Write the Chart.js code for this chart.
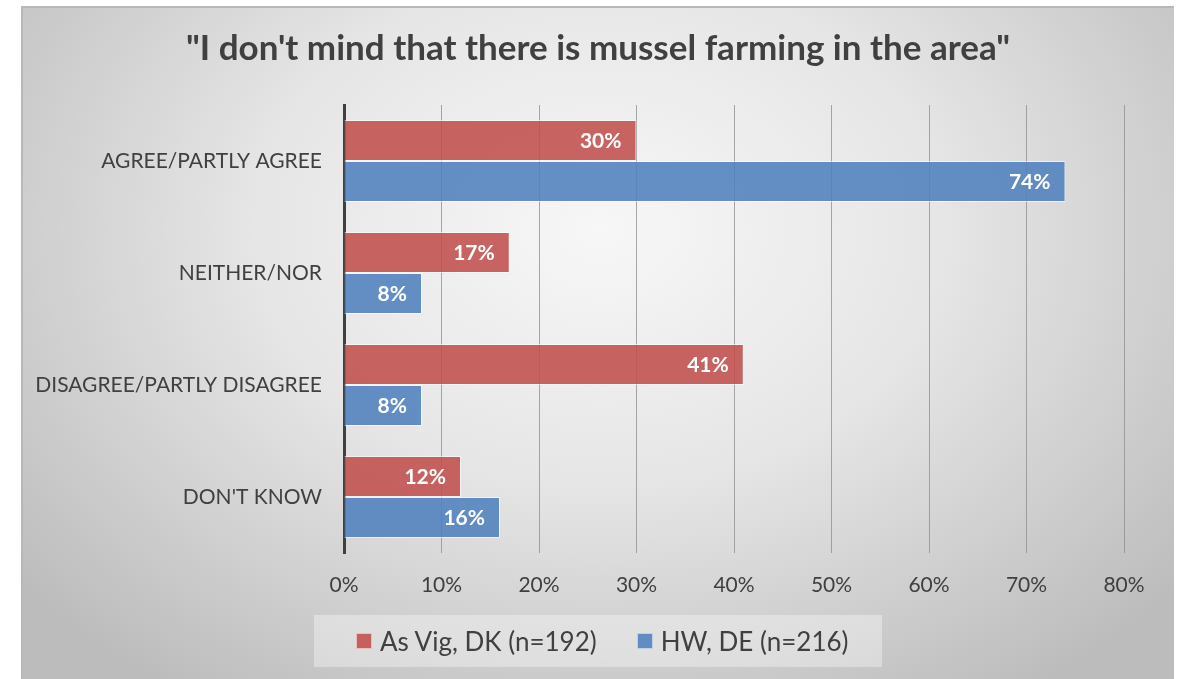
<!DOCTYPE html>
<html>
<head>
<meta charset="utf-8">
<script src="https://cdn.jsdelivr.net/npm/chart.js@4.4.1/dist/chart.umd.min.js"></script>
<style>
  html, body { margin: 0; padding: 0; background: #ffffff; }
  #wrap { position: relative; width: 1179px; height: 679px; }
  #legend {
    position: absolute; left: 314px; top: 615px; width: 568px; height: 52px;
    background: rgba(255,255,255,0.35);
    display: flex; align-items: center; justify-content: flex-start; gap: 40px;
    padding-left: 42px; box-sizing: border-box;
    font-family: Lato, "Open Sans", sans-serif; font-size: 26px; color: #404040;
  }
  #legend .item { display: flex; align-items: center; }
  #legend .box { width: 16px; height: 16px; margin-right: 8px; border: 1px solid rgba(255,255,255,0.6); box-sizing: border-box; }
</style>
</head>
<body>
<div id="wrap">
  <canvas id="chart" width="1179" height="679"></canvas>
  <div id="legend"></div>
</div>
<script>
const categories = ['AGREE/PARTLY AGREE', 'NEITHER/NOR', 'DISAGREE/PARTLY DISAGREE', "DON'T KNOW"];
const seriesNames = ['As Vig, DK (n=192)', 'HW, DE (n=216)'];
const asVigValues = [30, 17, 41, 12];
const hwValues = [74, 8, 8, 16];
const xTicks = [0, 10, 20, 30, 40, 50, 60, 70, 80];
const chartTitle = '"I don\'t mind that there is mussel farming in the area"';

const colors = ['rgba(192, 80, 77, 0.88)', 'rgba(79, 129, 189, 0.88)'];
const FONT = 'Lato, "Open Sans", sans-serif';

// fondo con degradado radial, marco y título
const backgroundPlugin = {
    id: 'bg',
    beforeDraw(chart) {
        const ctx = chart.ctx;
        ctx.save();
        const x0 = 21, y0 = 6, x1 = 1174, y1 = 679;
        ctx.fillStyle = '#ffffff';
        ctx.fillRect(0, 0, chart.width, chart.height);
        ctx.beginPath();
        ctx.rect(x0, y0, x1 - x0, y1 - y0);
        ctx.clip();
        ctx.translate(600, 230);
        ctx.scale(1.35, 1);
        const g = ctx.createRadialGradient(0, 0, 0, 0, 0, 560);
        g.addColorStop(0, '#f7f7f7');
        g.addColorStop(0.45, '#e6e6e6');
        g.addColorStop(1, '#bcbcbc');
        ctx.fillStyle = g;
        ctx.fillRect(-700, -400, 1400, 900);
        ctx.restore();
        ctx.save();
        ctx.strokeStyle = '#b8b8b8';
        ctx.lineWidth = 2;
        ctx.beginPath();
        ctx.moveTo(x0 + 1, y1);
        ctx.lineTo(x0 + 1, y0 + 1);
        ctx.lineTo(x1, y0 + 1);
        ctx.stroke();
        // título centrado en el marco
        ctx.font = 'bold 35px ' + FONT;
        ctx.fillStyle = '#404040';
        ctx.textAlign = 'center';
        ctx.textBaseline = 'middle';
        ctx.fillText(chartTitle, 598, 49);
        ctx.restore();
    }
};

// etiquetas de valor dentro del extremo de cada barra
const valueLabelPlugin = {
    id: 'valueLabels',
    afterDatasetsDraw(chart) {
        const ctx = chart.ctx;
        ctx.save();
        ctx.font = 'bold 21px ' + FONT;
        ctx.fillStyle = '#ffffff';
        ctx.textAlign = 'right';
        ctx.textBaseline = 'middle';
        chart.data.datasets.forEach((ds, i) => {
            chart.getDatasetMeta(i).data.forEach((bar, j) => {
                ctx.fillText(ds.data[j] + '%', bar.x - 15, bar.y + 1);
            });
        });
        ctx.restore();
    }
};

new Chart(document.getElementById('chart'), {
    type: 'bar',
    data: {
        labels: categories,
        datasets: [
            { label: seriesNames[0], data: asVigValues, backgroundColor: colors[0] },
            { label: seriesNames[1], data: hwValues, backgroundColor: colors[1] }
        ]
    },
    options: {
        indexAxis: 'y',
        responsive: false,
        animation: false,
        layout: { padding: { left: 24, right: 55, top: 105, bottom: 83 } },
        datasets: {
            bar: {
                categoryPercentage: 0.73,
                barPercentage: 1,
                borderColor: 'rgba(255,255,255,0.55)',
                borderWidth: 1
            }
        },
        plugins: {
            legend: { display: false },
            tooltip: { enabled: false },
            title: { display: false }
        },
        scales: {
            x: {
                min: 0,
                max: 80,
                afterBuildTicks(scale) {
                    scale.ticks = xTicks.map(v => ({ value: v }));
                },
                afterFit(scale) { scale.height = 43; },
                grid: { color: 'rgba(140,140,140,0.75)', lineWidth: 1, drawTicks: false },
                border: { display: false },
                ticks: {
                    color: '#404040',
                    padding: 20,
                    font: { family: FONT, size: 21 },
                    callback: v => v + '%'
                }
            },
            y: {
                afterFit(scale) { scale.width = 320; },
                grid: { display: false, drawTicks: false },
                border: { display: true, color: '#404040', width: 3 },
                ticks: {
                    color: '#404040',
                    padding: 22,
                    font: { family: FONT, size: 21 }
                }
            }
        }
    },
    plugins: [backgroundPlugin, valueLabelPlugin]
});

// leyenda en HTML
const legendEl = document.getElementById('legend');
seriesNames.forEach((name, i) => {
    const item = document.createElement('div');
    item.className = 'item';
    item.innerHTML = `<span class="box" style="background:${colors[i]}"></span><span>${name}</span>`;
    legendEl.appendChild(item);
});
</script>
</body>
</html>
